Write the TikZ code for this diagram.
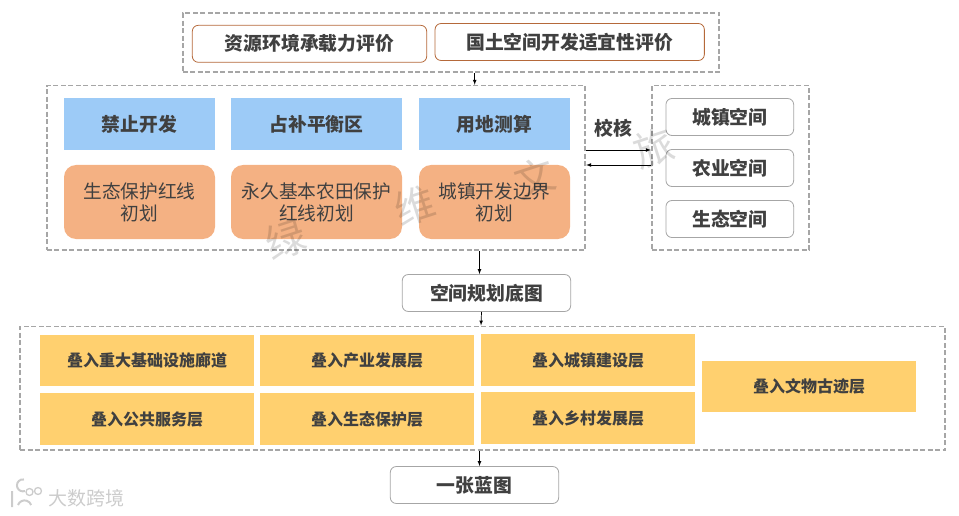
\documentclass[tikz,border=0pt]{standalone}
\usepackage{fontspec}
\usepackage{xcolor}
\usepackage{tikz}
\setmainfont{Noto Sans CJK SC}
\definecolor{dashgray}{HTML}{A6A6A6}
\definecolor{boxblue}{HTML}{9DCBF7}
\definecolor{boxorange}{HTML}{F4B183}
\definecolor{boxyellow}{HTML}{FFD06F}
\definecolor{edgebrown}{HTML}{B5693A}
\definecolor{textgray}{HTML}{404040}
\tikzset{
  group/.style={draw=dashgray,dash pattern=on 5pt off 2.5pt,line width=1.7pt,minimum height=164.3pt,inner sep=0pt},
  evalbox/.style={draw=edgebrown,rounded corners=6pt,line width=0.8pt,fill=white,text=textgray,font=\fontsize{18.8}{22}\selectfont\bfseries,minimum height=37pt,inner sep=0pt},
  headbox/.style={fill=boxblue,text=textgray,font=\fontsize{18.8}{22}\selectfont\bfseries,minimum height=52pt,inner sep=0pt},
  planbox/.style={fill=boxorange,rounded corners=12pt,text=textgray,font=\fontsize{18.7}{22}\selectfont,minimum height=74pt,inner sep=0pt,align=center},
  spacebox/.style={draw=dashgray,rounded corners=6pt,line width=0.8pt,fill=white,text=textgray,font=\fontsize{18.8}{22}\selectfont\bfseries,minimum height=37pt,inner sep=0pt},
  layerbox/.style={fill=boxyellow,text=textgray,font=\fontsize{16}{19}\selectfont\bfseries,minimum width=214pt,inner sep=0pt},
  stamp/.style={text=black,opacity=0.14,font=\fontsize{40}{44}\selectfont,inner sep=0pt},
  arrow/.style={-latex,line width=0.7pt}
}
\begin{document}
\begin{tikzpicture}[x=1pt,y=-1pt]
    \useasboundingbox (0,0) rectangle (959,516);
    % dashed groups
    \node[group,minimum width=536.6pt,minimum height=59.3pt] (top) at (451,42.7) {};
    \node[group,minimum width=538.6pt] (mid) at (316,167.8) {};
    \node[group,minimum width=157.6pt] (side) at (730.5,167.8) {};
    \node[group,minimum width=925pt,minimum height=123.7pt] (bottom) at (482.5,388.2) {};
    % evaluation
    \node[evalbox,minimum width=234.4pt] (res) at (309.5,43.8) {资源环境承载力评价};
    \node[evalbox,minimum width=269.3pt] (land) at (569.7,42) {国土空间开发适宜性评价};
    % middle columns
    \node[headbox,minimum width=151pt] (ban) at (139.5,124) {禁止开发};
    \node[headbox,minimum width=171pt] (bal) at (316.5,124) {占补平衡区};
    \node[headbox,minimum width=151pt] (use) at (494.5,124) {用地测算};
    \node[planbox,minimum width=151pt] (eco) at (139.5,202) {生态保护红线\\初划};
    \node[planbox,minimum width=171pt] (farm) at (316.5,202) {永久基本农田保护\\红线初划};
    \node[planbox,minimum width=151pt] (town) at (494.5,202) {城镇开发边界\\初划};
    % spaces
    \node[spacebox,minimum width=127.7pt] (city) at (729.8,117) {城镇空间};
    \node[spacebox,minimum width=127.7pt] (agri) at (729.8,168) {农业空间};
    \node[spacebox,minimum width=127.7pt] (ecol) at (729.8,219) {生态空间};
    \node[text=textgray,font=\fontsize{18.8}{22}\selectfont\bfseries,inner sep=0pt] (check) at (613.5,128) {校核};
    % base and result
    \node[spacebox,minimum width=168.4pt] (base) at (486.5,293) {空间规划底图};
    \node[spacebox,minimum width=168.4pt] (blue) at (474.5,485) {一张蓝图};
    % layers
    \node[layerbox,minimum height=51pt] (l1) at (147,360.5) {叠入重大基础设施廊道};
    \node[layerbox,minimum height=51pt] (l2) at (367,360.5) {叠入产业发展层};
    \node[layerbox,minimum height=52pt] (l3) at (588,360) {叠入城镇建设层};
    \node[layerbox,minimum height=52pt] (l4) at (147,419) {叠入公共服务层};
    \node[layerbox,minimum height=52pt] (l5) at (367,419) {叠入生态保护层};
    \node[layerbox,minimum height=52pt] (l6) at (588,418) {叠入乡村发展层};
    \node[layerbox,minimum height=51pt] (l7) at (809,386.5) {叠入文物古迹层};
    % connectors
    \draw[arrow] ([xshift=23.7pt]top.south) -- ([xshift=158.7pt]mid.north);
    \draw[arrow] ([xshift=163.5pt]mid.south) -- ([xshift=-7pt]base.north);
    \draw[arrow] ([xshift=-5pt]base.south) -- ([xshift=-1.5pt]bottom.north);
    \draw[arrow] ([xshift=-3pt]bottom.south) -- ([xshift=5pt]blue.north);
    \draw[arrow] ([yshift=17.8pt]mid.east) -- ([yshift=17.8pt]side.west);
    \draw[arrow] ([yshift=2.8pt]side.west) -- ([yshift=2.8pt]mid.east);
    % watermark
    \node[stamp,rotate=18] (w1) at (285.5,240) {绿};
    \node[stamp,rotate=18] (w2) at (415,206) {维};
    \node[stamp,rotate=18] (w3) at (535,178) {文};
    \node[stamp,rotate=18] (w4) at (654,148) {旅};
    \node[text=black!20,font=\fontsize{19}{22}\selectfont,inner sep=0pt] (brand) at (86.5,498.5) {大数跨境};
    \draw[black!20,line width=2pt] (12,491) -- (12,507) (25,491) arc (70:280:6) (18,505) arc (200:340:7);
    \draw[black!20,line width=1.3pt] (29.5,492) circle (3.5pt) (38,491) circle (3.5pt);
\end{tikzpicture}
\end{document}
